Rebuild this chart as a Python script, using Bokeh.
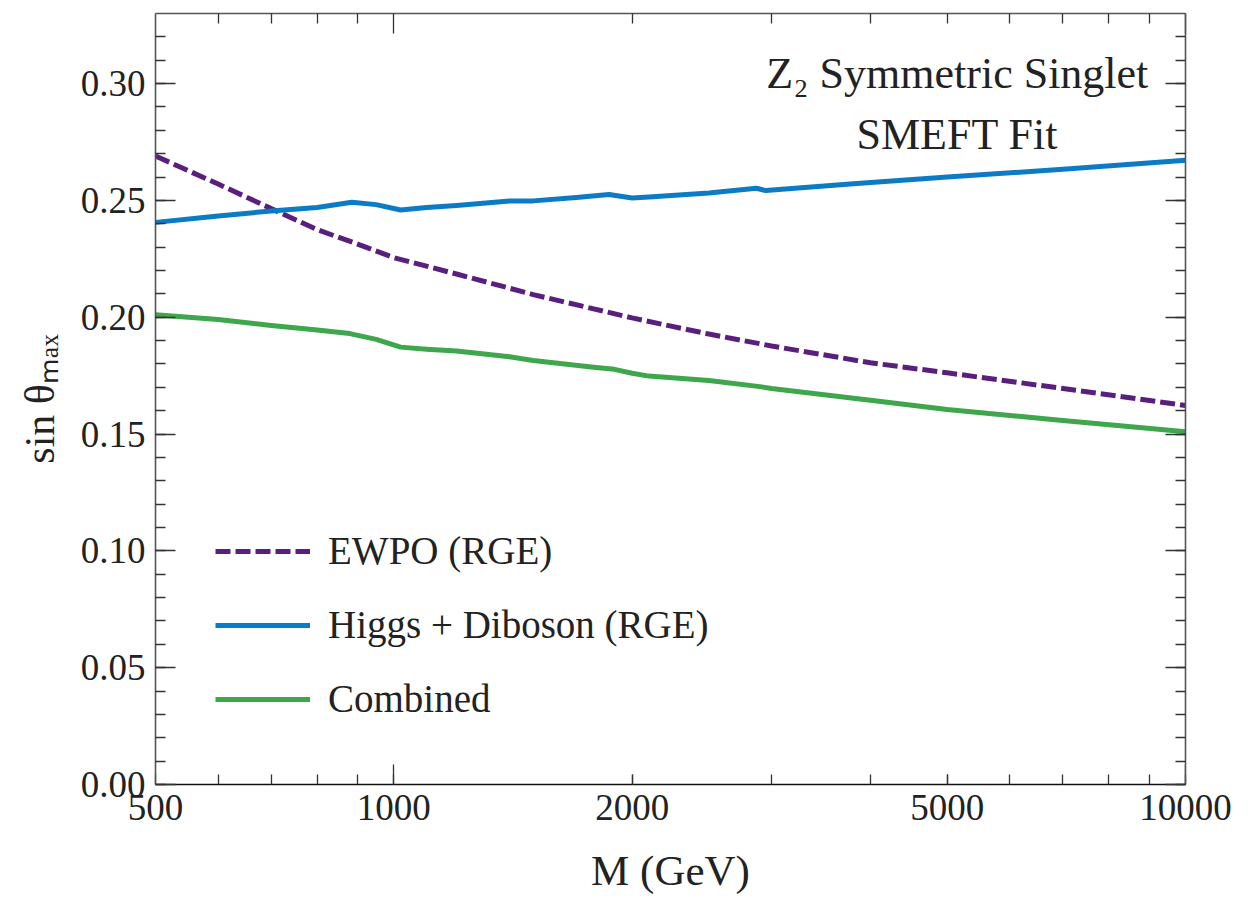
from bokeh.plotting import figure
from bokeh.models import (Range1d, FixedTicker, SingleIntervalTicker, LinearAxis, LogAxis,
                          PrintfTickFormatter, NumeralTickFormatter, CustomJSTickFormatter, Label)
from bokeh.embed import file_html
from bokeh.resources import INLINE

# ---- data ----
M_ewpo = [500, 600, 700, 800, 900, 1000, 1200, 1500, 2000, 2500, 3000, 4000, 5000, 7000, 10000]
s_ewpo = [0.2690, 0.2570, 0.2465, 0.2375, 0.2313, 0.2255, 0.2185, 0.2097, 0.1997, 0.1928,
          0.1877, 0.1805, 0.1762, 0.1695, 0.1622]

M_higgs = [500, 600, 700, 800, 885, 950, 1020, 1100, 1200, 1400, 1500, 1700, 1870, 2000, 2100,
           2500, 2870, 2950, 3770, 5000, 7000, 10000]
s_higgs = [0.2406, 0.2433, 0.2455, 0.2470, 0.2492, 0.2482, 0.2459, 0.2470, 0.2478, 0.2497,
           0.2498, 0.2512, 0.2525, 0.2510, 0.2515, 0.2532, 0.2552, 0.2542, 0.2570, 0.2600,
           0.2633, 0.2672]

M_comb = [500, 600, 700, 800, 880, 950, 1020, 1100, 1200, 1400, 1500, 1800, 1900, 2000, 2100,
          2500, 2900, 3000, 4000, 5000, 7000, 10000]
s_comb = [0.2011, 0.1990, 0.1965, 0.1945, 0.1930, 0.1905, 0.1872, 0.1863, 0.1855, 0.1831,
          0.1815, 0.1785, 0.1777, 0.1760, 0.1748, 0.1729, 0.1703, 0.1695, 0.1645, 0.1605,
          0.1558, 0.1510]

series_labels = ["EWPO (RGE)", "Higgs + Diboson (RGE)", "Combined"]
x_label_ticks = [500, 1000, 2000, 5000, 10000]
x_decade_ticks = [1000, 10000]
x_minor_ticks = [600, 700, 800, 900, 2000, 3000, 4000, 5000, 6000, 7000, 8000, 9000]

FONT = "Liberation Serif"
AX_COLOR = "#555555"

p = figure(width=1240, height=896, x_axis_type="log",
           x_range=Range1d(500, 10000), y_range=Range1d(0, 0.33),
           output_backend="svg", toolbar_location=None,
           min_border_left=155, min_border_right=55, min_border_top=13, min_border_bottom=112)
p.outline_line_color = None
p.xgrid.visible = False
p.ygrid.visible = False
p.background_fill_color = "white"
p.border_fill_color = "white"

def style_ticks(ax, major, minor, color=AX_COLOR):
    ax.major_tick_in = major
    ax.major_tick_out = 0
    ax.minor_tick_in = minor
    ax.minor_tick_out = 0
    ax.major_tick_line_color = "#333333"
    ax.minor_tick_line_color = "#333333"
    ax.major_tick_line_width = 1.3
    ax.minor_tick_line_width = 1.3
    ax.axis_line_color = color
    ax.axis_line_width = 1.6

# bottom axis
xa = p.xaxis[0]
xa.ticker = FixedTicker(ticks=x_label_ticks, minor_ticks=x_minor_ticks)
xa.formatter = NumeralTickFormatter(format="0")
style_ticks(xa, 10, 10, color="#111111")
xa.major_label_text_font = FONT
xa.major_label_text_font_size = "37px"
xa.major_label_text_color = "#222222"
xa.major_label_standoff = 10
xa.axis_label = "M (GeV)"
xa.axis_label_text_font = FONT
xa.axis_label_text_font_size = "43px"
xa.axis_label_text_font_style = "normal"
xa.axis_label_text_color = "#222222"
xa.axis_label_standoff = 24

# extra long ticks at decades (inside the frame, no labels)
xdec = LogAxis(ticker=FixedTicker(ticks=x_decade_ticks), fixed_location=0,
               formatter=CustomJSTickFormatter(code="return ''"))
style_ticks(xdec, 20, 0)
xdec.axis_line_color = None
xdec.major_label_text_font_size = "1px"
p.add_layout(xdec, "below")

# top axis
xt = LogAxis(ticker=FixedTicker(ticks=x_decade_ticks, minor_ticks=x_minor_ticks),
             formatter=CustomJSTickFormatter(code="return ''"))
style_ticks(xt, 20, 10)
xt.major_label_text_font_size = "1px"
xt.major_label_standoff = 0
p.add_layout(xt, "above")

# left axis
ya = p.yaxis[0]
ya.ticker = SingleIntervalTicker(interval=0.05, num_minor_ticks=5)
ya.formatter = PrintfTickFormatter(format="%.2f")
style_ticks(ya, 20, 10)
ya.major_label_text_font = FONT
ya.major_label_text_font_size = "37px"
ya.major_label_text_color = "#222222"
ya.major_label_standoff = 10
ya.axis_label = "sin θₘₐₓ"
ya.axis_label_text_font = FONT
ya.axis_label_text_font_size = "42px"
ya.axis_label_text_font_style = "normal"
ya.axis_label_text_color = "#222222"
ya.axis_label_standoff = 15

# right axis
yr = LinearAxis(ticker=SingleIntervalTicker(interval=0.05, num_minor_ticks=5),
                formatter=CustomJSTickFormatter(code="return ''"))
style_ticks(yr, 20, 10)
yr.major_label_text_font_size = "1px"
yr.major_label_standoff = 0
p.add_layout(yr, "right")

# ---- curves ----
p.line(M_ewpo, s_ewpo, line_color="#5a1f7e", line_width=5, line_dash="15 5",
       legend_label=series_labels[0])
p.line(M_higgs, s_higgs, line_color="#0c7bc6", line_width=5, line_join="round",
       legend_label=series_labels[1])
p.line(M_comb, s_comb, line_color="#3ea64b", line_width=5, line_join="round",
       legend_label=series_labels[2])

leg = p.legend[0]
leg.location = (60, 63)
leg.border_line_color = None
leg.background_fill_alpha = 0
leg.padding = 0
leg.margin = 0
leg.spacing = 29
leg.glyph_width = 95
leg.glyph_height = 44
leg.label_height = 44
leg.label_standoff = 18
leg.label_text_font = FONT
leg.label_text_font_size = "39px"
leg.label_text_color = "#222222"

# annotation
p.add_layout(Label(x=5150, y=0.3043, text="Z₂ Symmetric Singlet", text_align="center",
                   text_baseline="alphabetic", text_font=FONT, text_font_size="44px",
                   text_color="#222222"))
p.add_layout(Label(x=5150, y=0.2784, text="SMEFT Fit", text_align="center",
                   text_baseline="alphabetic", text_font=FONT, text_font_size="44px",
                   text_color="#222222"))

open("out.html", "w").write(file_html(p, INLINE))
